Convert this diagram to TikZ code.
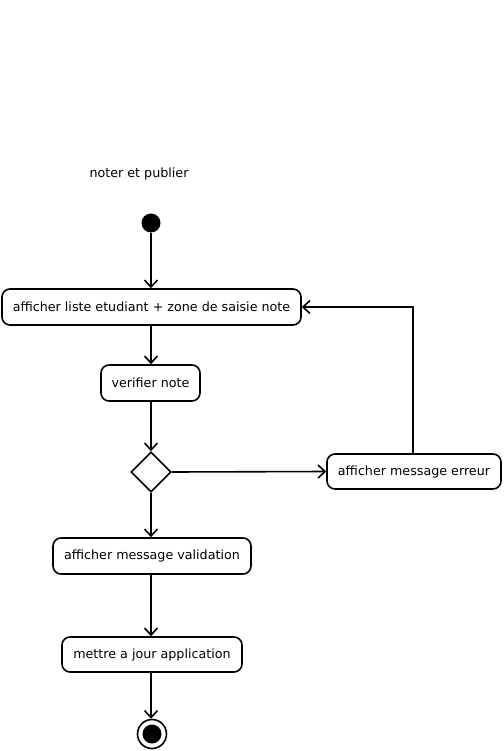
\documentclass[tikz,border=0pt]{standalone}
\usepackage{fontspec}
\setmainfont{DejaVu Sans}
\usetikzlibrary{arrows.meta,shapes.geometric}
\begin{document}
\begin{tikzpicture}[x=1pt,y=-1pt,
  every node/.style={font=\fontsize{12.7}{15}\selectfont},
  act/.style={draw,line width=1.6pt,rounded corners=8pt,inner sep=0pt,minimum height=36pt},
  flow/.style={line width=1.6pt,-{Straight Barb[length=7pt,width=13pt,line width=1.6pt]}}]
\useasboundingbox (0,0) rectangle (503,751);
\node (title) at (139,174) {noter et publier};
\node[circle,fill=black,minimum size=19pt,inner sep=0pt] (start) at (151,223) {};
\node[act,minimum width=299pt] (a1) at (151.5,307) {afficher liste etudiant + zone de saisie note};
\node[act,minimum width=99pt] (a2) at (150.5,383) {verifier note};
\node[diamond,draw,line width=1.6pt,minimum width=40pt,minimum height=40pt,inner sep=0pt] (d) at (151,472) {};
\node[act,minimum width=174pt,minimum height=35pt] (err) at (414,471.5) {afficher message erreur};
\node[act,minimum width=198pt] (val) at (152,556) {afficher message validation};
\node[act,minimum width=180pt,minimum height=35pt] (maj) at (152,654.5) {mettre a jour application};
\node[circle,draw,line width=1.6pt,minimum size=29pt,inner sep=0pt] (end) at (152,734) {};
\node[circle,fill=black,minimum size=19pt,inner sep=0pt] at (end) {};
\coordinate (c1) at (413,307);
\draw[flow] (start) -- (a1.north -| start);
\draw[flow] (a1.south -| d) -- (a2.north -| d);
\draw[flow] (a2.south -| d) -- (d.north);
\draw[flow] (d.east) -- (err.west);
\draw[flow] (d.south) -- (val.north -| d);
\draw[flow] (val.south -| d) -- (maj.north -| d);
\draw[flow] (maj.south -| d) -- (end.north -| d);
\draw[flow] (err.north -| c1) -- (c1) -- (a1.east);
\end{tikzpicture}
\end{document}
